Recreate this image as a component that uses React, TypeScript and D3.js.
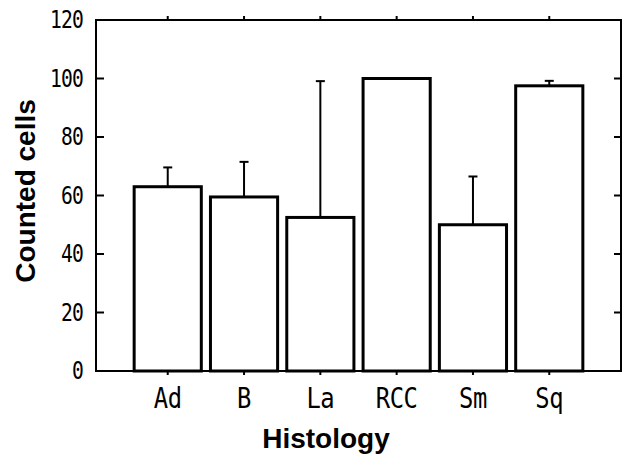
import React from "react";
import * as d3 from "d3";

const categories = ["Ad", "B", "La", "RCC", "Sm", "Sq"];
const means = [63, 59.5, 52.5, 100, 50, 97.5];
const errors = [6.6, 12, 46.6, 0, 16.5, 1.7];
const yTicks = [0, 20, 40, 60, 80, 100, 120];

const W = 628;
const H = 454;
const left = 96;
const right = 621;
const top = 20;
const bottom = 371;

export default function App() {
  const x = d3
    .scaleBand<string>()
    .domain(categories)
    .range([left, right])
    .paddingInner(0.12)
    .paddingOuter(0.5);
  const y = d3.scaleLinear().domain([0, 120]).range([bottom, top]);
  const bw = x.bandwidth();
  const monoFont = "'DejaVu Sans Mono', monospace";
  const sansFont = "'Liberation Sans', Arial, sans-serif";

  return (
    <svg
      width={W}
      height={H}
      style={{ position: "absolute", left: 0, top: 0, background: "#fff" }}
    >
      <rect x={0} y={0} width={W} height={H} fill="#fff" />
      {/* bars */}
      {categories.map((c, i) => {
        const x0 = x(c)!;
        const yt = y(means[i]);
        return (
          <rect
            key={c}
            x={x0}
            y={yt}
            width={bw}
            height={bottom - yt}
            fill="#fff"
            stroke="#000"
            strokeWidth={3}
          />
        );
      })}
      {/* error bars */}
      {categories.map((c, i) => {
        if (errors[i] <= 0) return null;
        const cx = x(c)! + bw / 2;
        const y1 = y(means[i]);
        const y2 = y(means[i] + errors[i]);
        return (
          <g key={"e" + c} stroke="#000" strokeWidth={2}>
            <line x1={cx} x2={cx} y1={y1} y2={y2} />
            <line x1={cx - 4.5} x2={cx + 4.5} y1={y2} y2={y2} />
          </g>
        );
      })}
      {/* frame */}
      <rect
        x={left}
        y={top}
        width={right - left}
        height={bottom - top}
        fill="none"
        stroke="#000"
        strokeWidth={2}
      />
      {/* y ticks (inward on both sides) */}
      {yTicks.map((t) => (
        <g key={"yt" + t} stroke="#000" strokeWidth={2}>
          <line x1={left} x2={left + 8} y1={y(t)} y2={y(t)} />
          <line x1={right} x2={right - 7} y1={y(t)} y2={y(t)} />
        </g>
      ))}
      {yTicks.map((t) => (
        <text
          key={"yl" + t}
          transform={`translate(83,${y(t)}) scale(0.82,1)`}
          textAnchor="end"
          dominantBaseline="central"
          fontFamily={monoFont}
          fontSize={24}
          letterSpacing={-1}
          fill="#000"
        >
          {t}
        </text>
      ))}
      {/* x ticks (outward top and bottom) */}
      {categories.map((c) => {
        const cx = x(c)! + bw / 2;
        return (
          <g key={"xt" + c} stroke="#000" strokeWidth={2}>
            <line x1={cx} x2={cx} y1={bottom} y2={bottom + 4} />
            <line x1={cx} x2={cx} y1={top} y2={top - 4} />
          </g>
        );
      })}
      {categories.map((c) => (
        <text
          key={"xl" + c}
          transform={`translate(${x(c)! + bw / 2},408) scale(0.85,1)`}
          textAnchor="middle"
          fontFamily={monoFont}
          fontSize={28}
          letterSpacing={-0.5}
          fill="#000"
        >
          {c}
        </text>
      ))}
      {/* axis titles */}
      <text
        x={326}
        y={448}
        textAnchor="middle"
        fontFamily={sansFont}
        fontWeight="bold"
        fontSize={28}
        fill="#000"
      >
        Histology
      </text>
      <text
        transform={`translate(35,191) rotate(-90)`}
        textAnchor="middle"
        fontFamily={sansFont}
        fontWeight="bold"
        fontSize={28}
        fill="#000"
      >
        Counted cells
      </text>
    </svg>
  );
}
